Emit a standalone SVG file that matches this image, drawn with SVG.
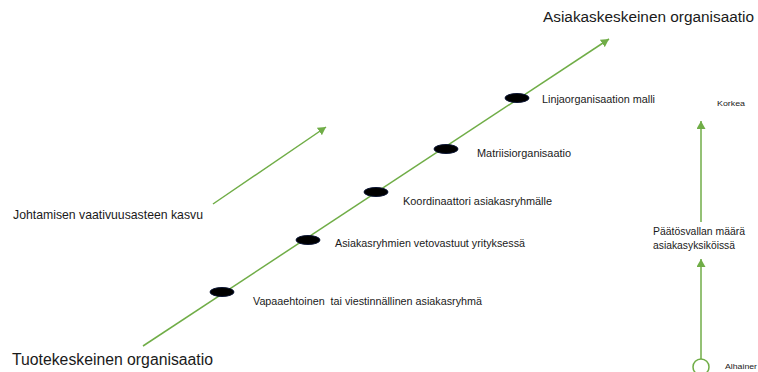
<svg xmlns="http://www.w3.org/2000/svg" width="758" height="372" viewBox="0 0 758 372">
  <style>
    .t { font-family: "Liberation Sans", Arial, sans-serif; fill: #1a1a1a; }
    .big { font-size: 16px; }
    .mid { font-size: 13px; }
    .lbl { font-size: 10.5px; }
    .sm { font-size: 10px; }
    .xs { font-size: 8px; }
    .ln { stroke: #70ad47; stroke-width: 1.5; fill: none; }
    .dot { fill: #000; stroke: #0b1533; stroke-width: 1; }
  </style>
  <defs>
    <marker id="arr" markerUnits="userSpaceOnUse" markerWidth="9" markerHeight="9" refX="8" refY="4.5" orient="auto">
      <path d="M0,0 L8,4.5 L0,9 Z" fill="#70ad47"/>
    </marker>
  </defs>
  <rect width="758" height="372" fill="#fff"/>

  <!-- connectors -->
  <g id="connectors">
    <line class="ln" x1="143" y1="346" x2="609" y2="39" marker-end="url(#arr)"/>
    <line class="ln" x1="213" y1="204" x2="326" y2="127" marker-end="url(#arr)"/>
    <line class="ln" x1="701" y1="359" x2="701" y2="259" marker-end="url(#arr)"/>
    <line class="ln" x1="701" y1="222" x2="701" y2="121" marker-end="url(#arr)"/>
    <circle class="ln" cx="701" cy="367" r="8"/>
  </g>

  <!-- end points -->
  <g id="asiakaskeskeinen">
    <text class="t" font-size="15.5" x="543" y="22" textLength="211" lengthAdjust="spacingAndGlyphs">Asiakaskeskeinen organisaatio</text>
  </g>
  <g id="tuotekeskeinen">
    <text class="t big" x="12" y="365" textLength="201" lengthAdjust="spacingAndGlyphs">Tuotekeskeinen organisaatio</text>
  </g>
  <g id="johtaminen">
    <text class="t mid" x="13" y="219" textLength="190" lengthAdjust="spacingAndGlyphs">Johtamisen vaativuusasteen kasvu</text>
  </g>

  <!-- stages along the axis -->
  <g id="vapaaehtoinen">
    <ellipse class="dot" cx="222" cy="292" rx="12" ry="4.5"/>
    <text class="t lbl" x="253" y="305" textLength="229" lengthAdjust="spacingAndGlyphs" xml:space="preserve">Vapaaehtoinen  tai viestinnällinen asiakasryhmä</text>
  </g>
  <g id="vetovastuut">
    <ellipse class="dot" cx="308" cy="240" rx="12" ry="4.5"/>
    <text class="t lbl" x="335" y="247" textLength="190" lengthAdjust="spacingAndGlyphs">Asiakasryhmien vetovastuut yrityksessä</text>
  </g>
  <g id="koordinaattori">
    <ellipse class="dot" cx="376" cy="192" rx="12" ry="4.5"/>
    <text class="t lbl" x="403" y="205" textLength="149" lengthAdjust="spacingAndGlyphs">Koordinaattori asiakasryhmälle</text>
  </g>
  <g id="matriisi">
    <ellipse class="dot" cx="446" cy="149" rx="12" ry="4.5"/>
    <text class="t lbl" x="477" y="157" textLength="94" lengthAdjust="spacingAndGlyphs">Matriisiorganisaatio</text>
  </g>
  <g id="linja">
    <ellipse class="dot" cx="517" cy="98" rx="12" ry="4.5"/>
    <text class="t lbl" x="542" y="103" textLength="113" lengthAdjust="spacingAndGlyphs">Linjaorganisaation malli</text>
  </g>

  <!-- decision-power scale -->
  <g id="korkea">
    <text class="t xs" x="717" y="106" textLength="28" lengthAdjust="spacingAndGlyphs">Korkea</text>
  </g>
  <g id="paatosvalta">
    <text class="t sm" x="653" y="235" textLength="92" lengthAdjust="spacingAndGlyphs">Päätösvallan määrä</text>
    <text class="t sm" x="653" y="249" textLength="82" lengthAdjust="spacingAndGlyphs">asiakasyksiköissä</text>
  </g>
  <g id="alhainen">
    <text class="t xs" x="725" y="369" textLength="32" lengthAdjust="spacingAndGlyphs">Alhainer</text>
  </g>
</svg>
